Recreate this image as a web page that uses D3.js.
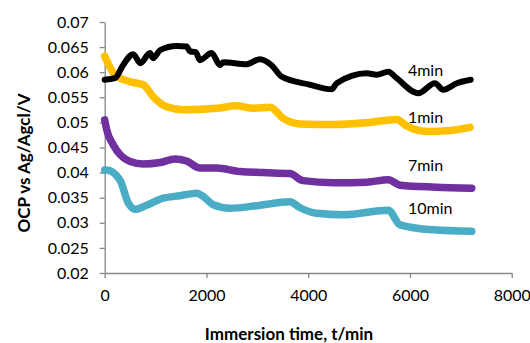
<!DOCTYPE html>
<html>
<head>
<meta charset="utf-8">
<script src="https://cdn.jsdelivr.net/npm/d3@7"></script>
<style>
  body { margin: 0; background: #fff; }
  svg text { font-family: Lato, "Open Sans", sans-serif; fill: #000; }
</style>
</head>
<body>
<svg id="chart"></svg>
<script>
// values (time in min, OCP in V)
var t1 = [0, 200, 500, 760, 955, 1220, 1545, 2200, 2595, 2920, 3250, 3510, 3840, 4500, 5200, 5740, 5935, 6330, 6800, 7180];
var v1 = [0.0632, 0.0595, 0.0581, 0.0575, 0.0551, 0.0531, 0.0525, 0.0528, 0.0533, 0.0528, 0.0530, 0.0508, 0.0497, 0.0496, 0.0500, 0.0506, 0.0493, 0.0482, 0.0484, 0.0490];

var t4 = [0, 200, 360, 560, 700, 890, 950, 1090, 1415, 1610, 1680, 1790, 1870, 2100, 2270, 2330, 2790, 3050, 3280, 3480, 4035, 4460, 4560, 5150, 5345, 5575, 5740, 6165, 6490, 6655, 6920, 7195];
var v4 = [0.0585, 0.0588, 0.0614, 0.0636, 0.0618, 0.0638, 0.0628, 0.0644, 0.0652, 0.0651, 0.0641, 0.0640, 0.0624, 0.0638, 0.0614, 0.0620, 0.0616, 0.0626, 0.0614, 0.0591, 0.0575, 0.0566, 0.0578, 0.0598, 0.0595, 0.0601, 0.0588, 0.0558, 0.0578, 0.0565, 0.0578, 0.0585];

var t7 = [0, 40, 170, 500, 760, 1090, 1380, 1610, 1875, 2200, 2660, 3120, 3640, 3900, 4490, 5150, 5575, 5805, 6500, 7215];
var v7 = [0.0505, 0.0485, 0.0455, 0.0422, 0.0417, 0.0420, 0.0427, 0.0423, 0.0409, 0.0409, 0.0402, 0.0400, 0.0398, 0.0384, 0.0380, 0.0381, 0.0386, 0.0375, 0.0371, 0.0369];

var t10 = [0, 40, 300, 465, 595, 825, 1150, 1480, 1810, 1940, 2135, 2465, 2990, 3640, 3840, 4165, 4690, 5575, 5805, 6460, 7215];
var v10 = [0.0405, 0.0405, 0.0385, 0.0339, 0.0327, 0.0335, 0.0349, 0.0354, 0.0359, 0.0352, 0.0336, 0.0329, 0.0334, 0.0342, 0.0330, 0.0319, 0.0316, 0.0325, 0.0296, 0.0286, 0.0283];

var seriesNames = ["1min", "4min", "7min", "10min"];
var seriesColors = ["#FFC000", "#000000", "#7030A0", "#4BACC6"];
var seriesWidths = [7.5, 6, 7.5, 7.5];
var labelT = [5960, 5960, 5960, 5960];
var labelV = [0.0509, 0.0604, 0.0415, 0.0328];

var xTicks = [0, 2000, 4000, 6000, 8000];
var yTicks = [0.02, 0.025, 0.03, 0.035, 0.04, 0.045, 0.05, 0.055, 0.06, 0.065, 0.07];

var width = 530, height = 343;
var margin = { left: 104.7, top: 22, right: 18.3, bottom: 70 };

var svg = d3.select("#chart").attr("width", width).attr("height", height);

var x = d3.scaleLinear().domain([0, 8000]).range([margin.left, width - margin.right]);
var y = d3.scaleLinear().domain([0.02, 0.07]).range([height - margin.bottom, margin.top]);

// axes
var xAxis = svg.append("g")
  .attr("transform", "translate(0," + y(0.02) + ")")
  .call(d3.axisBottom(x).tickValues(xTicks).tickSize(5).tickSizeOuter(0).tickPadding(12).tickFormat(d3.format("d")));
var yAxis = svg.append("g")
  .attr("transform", "translate(" + x(0) + ",0)")
  .call(d3.axisLeft(y).tickValues(yTicks).tickSize(5).tickSizeOuter(0).tickPadding(11).tickFormat(function (d) { return +d.toFixed(3); }));

[xAxis, yAxis].forEach(function (g) {
  g.select(".domain").attr("stroke", "#868686").attr("stroke-width", 1.3);
  g.selectAll(".tick line").attr("stroke", "#868686").attr("stroke-width", 1.3);
  g.selectAll(".tick text").style("font-size", "16px").attr("fill", "#000");
});

// lines
var data = [
  d3.zip(t1, v1),
  d3.zip(t4, v4),
  d3.zip(t7, v7),
  d3.zip(t10, v10)
];

var line = d3.line()
  .x(function (d) { return x(d[0]); })
  .y(function (d) { return y(d[1]); })
  .curve(d3.curveMonotoneX);

svg.append("g")
  .selectAll("path")
  .data(data)
  .enter()
  .append("path")
  .attr("d", line)
  .attr("fill", "none")
  .attr("stroke", function (d, i) { return seriesColors[i]; })
  .attr("stroke-width", function (d, i) { return seriesWidths[i]; })
  .attr("stroke-linecap", "round")
  .attr("stroke-linejoin", "round");

// series labels
svg.append("g")
  .selectAll("text")
  .data(seriesNames)
  .enter()
  .append("text")
  .attr("x", function (d, i) { return x(labelT[i]); })
  .attr("y", function (d, i) { return y(labelV[i]); })
  .attr("dy", "0.35em")
  .style("font-size", "16px")
  .text(function (d) { return d; });

// axis titles
svg.append("text")
  .attr("x", 289)
  .attr("y", 334)
  .attr("dy", "0.35em")
  .attr("text-anchor", "middle")
  .style("font-size", "17px")
  .style("font-weight", "bold")
  .text("Immersion time, t/min");

svg.append("text")
  .attr("transform", "translate(24,163) rotate(-90)")
  .attr("dy", "0.35em")
  .attr("text-anchor", "middle")
  .style("font-size", "17px")
  .style("font-weight", "bold")
  .text("OCP vs Ag/Agcl/V");
</script>
</body>
</html>
